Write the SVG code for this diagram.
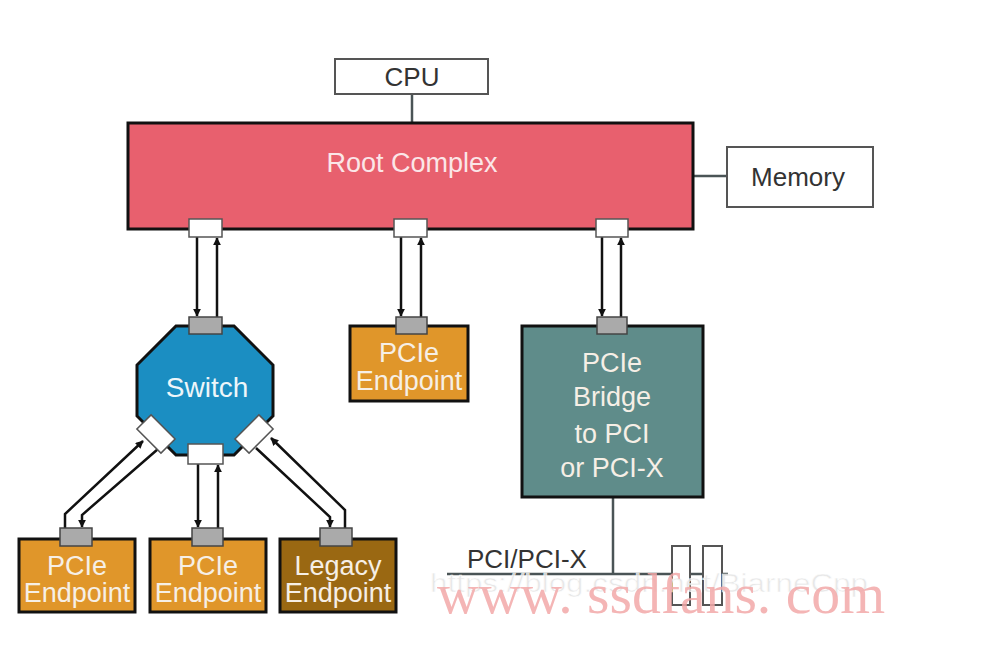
<svg xmlns="http://www.w3.org/2000/svg" width="982" height="650" viewBox="0 0 982 650">
<defs>
<marker id="ah" viewBox="0 0 10 10" refX="9" refY="5" markerWidth="8" markerHeight="8" markerUnits="userSpaceOnUse" orient="auto">
<path d="M0,0 L10,5 L0,10 Z" fill="#111"/>
</marker>
<style>
.lbl{font-family:"Liberation Sans",Arial,sans-serif;font-size:27px;text-anchor:middle}
.sm{font-size:26px}
.dark{fill:#333}
.light{fill:#f6efe6}
.box{stroke:#111;stroke-width:3}
.wbox{fill:#fff;stroke:#555;stroke-width:2}
.wport{fill:#fff;stroke:#555;stroke-width:1.5}
.gport{fill:#aaa;stroke:#444;stroke-width:1.5}
.ep{fill:#E0962A}
.conn{fill:none;stroke:#111;stroke-width:2.5;marker-end:url(#ah)}
.plain{fill:none;stroke:#4a5456;stroke-width:2.5}
</style>
</defs>
<rect width="982" height="650" fill="#fff"/>

<g id="connectors">
<line class="plain" x1="412" y1="94" x2="412" y2="123"/>
<line class="plain" x1="693" y1="176" x2="727" y2="176"/>
<line class="conn" x1="197" y1="237" x2="197" y2="316"/>
<line class="conn" x1="217" y1="317" x2="217" y2="238"/>
<line class="conn" x1="401" y1="237" x2="401" y2="316"/>
<line class="conn" x1="421" y1="317" x2="421" y2="238"/>
<line class="conn" x1="602" y1="237" x2="602" y2="316"/>
<line class="conn" x1="621" y1="317" x2="621" y2="238"/>
<polyline class="conn" points="65,528 65,514 143,441"/>
<polyline class="conn" points="158,449 82,515 82,527"/>
<line class="conn" x1="198" y1="464" x2="198" y2="527"/>
<line class="conn" x1="218" y1="528" x2="218" y2="465"/>
<polyline class="conn" points="345,528 345,510 271,438"/>
<polyline class="conn" points="256,448 330,517 330,527"/>
<line class="plain" x1="613" y1="497" x2="613" y2="574"/>
<line class="plain" x1="447" y1="574" x2="728" y2="574"/>
</g>

<g id="cpu">
<rect class="wbox" x="335" y="59" width="153" height="35"/>
<text class="lbl sm dark" x="412" y="86">CPU</text>
</g>

<g id="memory">
<rect class="wbox" x="727" y="147" width="146" height="60"/>
<text class="lbl sm dark" x="798" y="186">Memory</text>
</g>

<g id="root-complex">
<rect class="box" x="128" y="123" width="565" height="106" fill="#E8606E"/>
<text class="lbl" x="412" y="172" fill="#fbe6e8">Root Complex</text>
<rect class="wport" x="189" y="219" width="33" height="18"/>
<rect class="wport" x="394" y="219" width="33" height="18"/>
<rect class="wport" x="596" y="219" width="32" height="18"/>
</g>

<g id="switch">
<polygon class="box" points="176,326 234,326 273,365 273,416 234,455 176,455 137,416 137,365" fill="#1B8EC2"/>
<text class="lbl" x="207" y="397" fill="#eef6fa" style="font-size:28px">Switch</text>
<rect class="gport" x="189" y="317" width="33" height="17"/>
<rect class="wport" x="188" y="444" width="35" height="20"/>
<rect class="wport" x="-17" y="-10" width="34" height="20" transform="translate(156,434) rotate(45)"/>
<rect class="wport" x="-17" y="-10" width="34" height="20" transform="translate(254,434) rotate(-45)"/>
</g>

<g id="endpoint-top">
<rect class="box ep" x="350" y="326" width="118" height="75"/>
<rect class="gport" x="396" y="317" width="31" height="17"/>
<text class="lbl light" x="409" y="362">PCIe</text>
<text class="lbl light" x="409" y="390">Endpoint</text>
</g>

<g id="bridge">
<rect class="box" x="522" y="326" width="181" height="171" fill="#5F8C8A"/>
<rect class="gport" x="597" y="317" width="30" height="17"/>
<text class="lbl light" x="612" y="372">PCIe</text>
<text class="lbl light" x="612" y="406">Bridge</text>
<text class="lbl light" x="612" y="443">to PCI</text>
<text class="lbl light" x="612" y="477">or PCI-X</text>
</g>

<g id="endpoint-left">
<rect class="box ep" x="19" y="539" width="116" height="73"/>
<rect class="gport" x="60" y="528" width="32" height="18"/>
<text class="lbl light" x="77" y="575">PCIe</text>
<text class="lbl light" x="77" y="602">Endpoint</text>
</g>

<g id="endpoint-mid">
<rect class="box ep" x="150" y="539" width="116" height="73"/>
<rect class="gport" x="192" y="528" width="31" height="18"/>
<text class="lbl light" x="208" y="575">PCIe</text>
<text class="lbl light" x="208" y="602">Endpoint</text>
</g>

<g id="endpoint-legacy">
<rect class="box" x="280" y="539" width="116" height="73" fill="#9A6812"/>
<rect class="gport" x="320" y="528" width="32" height="18"/>
<text class="lbl light" x="338" y="575">Legacy</text>
<text class="lbl light" x="338" y="602">Endpoint</text>
</g>

<g id="pci-bus">
<text x="467" y="568" style="font-family:'Liberation Sans',Arial,sans-serif;font-size:26px" fill="#333">PCI/PCI-X</text>
<rect x="672" y="546" width="18" height="59" fill="#fff" stroke="#555" stroke-width="2"/>
<rect x="703" y="546" width="19" height="59" fill="#fff" stroke="#555" stroke-width="2"/>
</g>

<g id="watermarks">
<text x="430" y="592" textLength="438" lengthAdjust="spacingAndGlyphs" style="font-family:'Liberation Sans',Arial,sans-serif;font-size:26px" fill="#e4e4e4" stroke="#fff" stroke-width="0.6" opacity="0.85">https://blog.csdn.net/BiarneCpp</text>
<text x="437" y="613" textLength="448" lengthAdjust="spacingAndGlyphs" style="font-family:'Liberation Serif','Times New Roman',serif;font-size:56px" fill="#F3A9A9" opacity="0.85">www. ssdfans. com</text>
</g>
</svg>
